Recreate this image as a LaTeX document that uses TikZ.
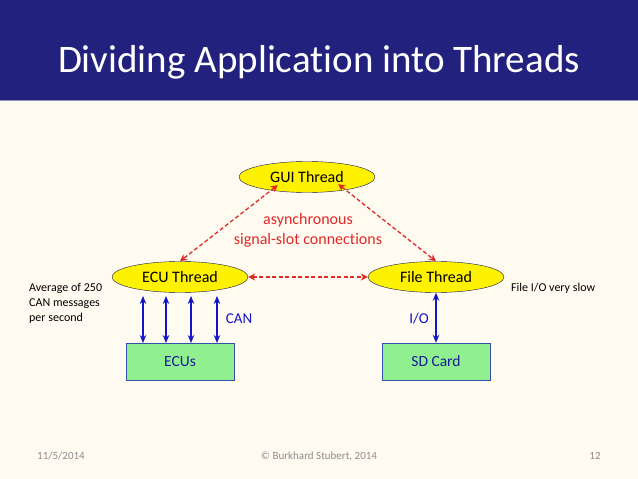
\documentclass[tikz,border=0pt]{standalone}
\usepackage{fontspec}
\setmainfont{Carlito}[Ligatures=NoCommon]
\usetikzlibrary{arrows.meta,shapes.geometric}
\definecolor{navy}{RGB}{34,34,126}
\definecolor{cream}{RGB}{255,251,240}
\definecolor{redarrow}{RGB}{224,40,40}
\definecolor{bluearrow}{RGB}{20,20,200}
\definecolor{boxgreen}{RGB}{144,240,144}
\definecolor{boxedge}{RGB}{50,80,170}
\definecolor{foot}{RGB}{140,140,140}
\tikzset{
  thread/.style={ellipse, draw=navy!60!black, thin, fill=yellow, minimum width=136pt, minimum height=31pt, inner sep=0pt, font=\fontsize{16}{18}\selectfont},
  hw/.style={rectangle, draw=boxedge, thin, fill=boxgreen, minimum width=108pt, minimum height=37pt, inner sep=0pt, text=navy!80!blue, font=\fontsize{15.5}{18}\selectfont},
  sig/.style={redarrow, line width=1.3pt, dash pattern=on 4pt off 2.5pt, {Stealth[length=7pt,width=7pt]}-{Stealth[length=7pt,width=7pt]}},
  bus/.style={bluearrow, line width=1.8pt, {Stealth[length=8pt,width=6.5pt]}-{Stealth[length=8pt,width=6.5pt]}},
  note/.style={font=\fontsize{12}{15}\selectfont, align=left, anchor=west, inner sep=0pt},
  footer/.style={font=\fontsize{11}{13}\selectfont, text=foot, inner sep=0pt, anchor=base}
}
\begin{document}
\begin{tikzpicture}[x=1pt,y=-1pt]
\fill[cream] (0,0) rectangle (638,479);
\useasboundingbox (0,0) rectangle (638,479);
\fill[navy] (0,0) rectangle (638,100);
\draw[navy!50!white, line width=1pt] (0,100.5) -- (638,100.5);
\node[text=white, font=\fontsize{39}{44}\selectfont, anchor=base, inner sep=0pt] (title) at (319,72) {Dividing Applicat\kern0pt ion into Threads};

\node[thread] (gui) at (307,177) {GUI Thread};
\node[thread] (ecu) at (180,277) {ECU Thread};
\node[thread] (file) at (436,277) {File Thread};
\node[hw] (ecus) at (180,362) {ECUs};
\node[hw] (sd) at (436,361.5) {SD Card};

\draw[sig] (gui.south west) ++(19,-3) coordinate (g1) (g1) -- (ecu.north);
\draw[sig] (gui.south east) ++(-17,-4) coordinate (g2) (g2) -- (file.north);
\draw[sig] (ecu.east) -- (file.west);

\node[text=redarrow, font=\fontsize{16}{19.5}\selectfont, align=center, inner sep=0pt] (async) at (308,230.5) {asynchronous\\signal-slot connect\kern0pt ions};

\foreach \x [count=\i] in {143,166,191,217} {
  \coordinate (ta\i) at (\x,296);
  \coordinate (tb\i) at (\x,343);
  \draw[bus] (ta\i) -- (tb\i);
}
\draw[bus] (file.south) -- (sd.north);

\node[text=bluearrow, font=\fontsize{15}{17}\selectfont] (can) at (239,319) {CAN};
\node[text=bluearrow, font=\fontsize{15}{17}\selectfont] (io) at (419,319) {I/O};

\node[note] (avg) at (29,303) {Average of 250\\CAN messages\\per second};
\node[note] (slow) at (511,288) {File I/O very slow};

\node[footer] (date) at (61,459) {11/5/2014};
\node[footer] (copy) at (319,459) {© Burkhard Stubert, 2014};
\node[footer] (page) at (595,459) {12};
\end{tikzpicture}
\end{document}
